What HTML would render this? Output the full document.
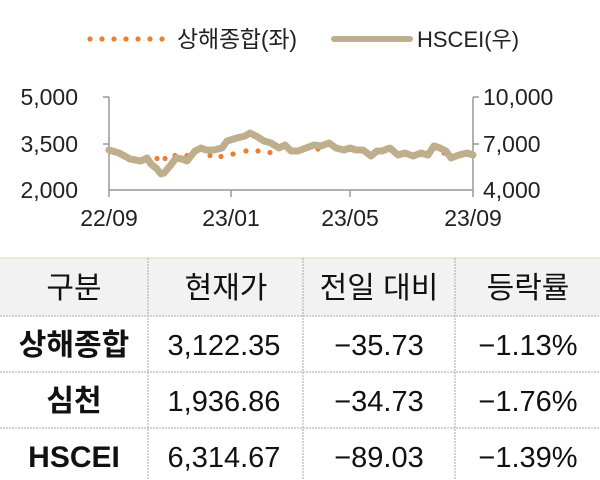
<!DOCTYPE html>
<html><head><meta charset="utf-8"><style>
html,body{margin:0;padding:0;background:#fff;width:600px;height:480px;overflow:hidden}
svg{display:block;font-family:"Liberation Sans","Noto Sans CJK KR",sans-serif}
</style></head><body>
<svg width="600" height="480" viewBox="0 0 600 480">
<g fill="#ED7D31">
<circle cx="90" cy="39" r="2.6"/><circle cx="102" cy="39" r="2.6"/><circle cx="114" cy="39" r="2.6"/><circle cx="126" cy="39" r="2.6"/><circle cx="138" cy="39" r="2.6"/><circle cx="150" cy="39" r="2.6"/><circle cx="162" cy="39" r="2.6"/>
</g>
<text x="177" y="47" font-size="23" fill="#222" textLength="120">상해종합(좌)</text>
<line x1="334" y1="39" x2="410" y2="39" stroke="#BFAE8C" stroke-width="6" stroke-linecap="round"/>
<text x="417" y="47" font-size="22" fill="#222">HSCEI(우)</text>
<g stroke="#999" stroke-width="1.5" fill="none">
<line x1="109" y1="97" x2="109" y2="197"/>
<line x1="473" y1="97" x2="473" y2="197"/>
<line x1="109" y1="190" x2="473" y2="190"/>
<line x1="103" y1="97" x2="109" y2="97"/><line x1="103" y1="144" x2="109" y2="144"/>
<line x1="473" y1="97" x2="479" y2="97"/><line x1="473" y1="144" x2="479" y2="144"/>
<line x1="231" y1="190" x2="231" y2="197"/><line x1="350" y1="190" x2="350" y2="197"/>
</g>
<g font-size="23" fill="#222">
<text x="78" y="105" text-anchor="end">5,000</text>
<text x="78" y="152" text-anchor="end">3,500</text>
<text x="78" y="198" text-anchor="end">2,000</text>
<text x="483" y="105">10,000</text>
<text x="483" y="152">7,000</text>
<text x="483" y="198">4,000</text>
<text x="109" y="226" text-anchor="middle">22/09</text>
<text x="231" y="226" text-anchor="middle">23/01</text>
<text x="350" y="226" text-anchor="middle">23/05</text>
<text x="473" y="226" text-anchor="middle">23/09</text>
</g>
<g fill="#ED7D31">
<circle cx="145" cy="158.5" r="2.6"/><circle cx="157" cy="158.5" r="2.6"/><circle cx="165" cy="158.5" r="2.6"/><circle cx="175" cy="155.5" r="2.6"/><circle cx="187" cy="155.5" r="2.6"/>
<circle cx="210" cy="155.5" r="2.6"/><circle cx="221" cy="156.5" r="2.6"/><circle cx="233" cy="154" r="2.6"/><circle cx="246" cy="151" r="2.6"/><circle cx="258" cy="151" r="2.6"/><circle cx="270" cy="152.5" r="2.6"/>
<circle cx="318" cy="149" r="2.6"/><circle cx="433" cy="149" r="2.6"/><circle cx="444" cy="153" r="2.6"/>
</g>
<polyline fill="none" stroke="#BFAE8C" stroke-width="7" stroke-linejoin="round" stroke-linecap="round" points="109,150 119,153 130,159 141,161 147,158 151,164 157,169 161,174 164,173 170,166 176,158 182,159 187,161 195,151 201,148 206,150 214,150 222,148 227,141 237,138 245,136 250,133 256,136 264,141 271,143 279,148 285,145 291,151 298,151 306,148 314,145 321,146 329,143 336,148 344,150 350,148 356,150 363,150 371,156 377,151 382,151 390,148 398,155 405,153 413,156 421,153 428,155 434,146 440,148 446,151 451,158 459,155 467,153 473,155"/>
<rect x="0" y="258" width="600" height="58" fill="#F2F2F2"/>
<line x1="0" y1="258" x2="600" y2="258" stroke="#EFE6D6" stroke-width="2"/>
<g stroke="#AAA" stroke-width="1" stroke-dasharray="2,1">
<line x1="0" y1="316" x2="600" y2="316"/><line x1="0" y1="372" x2="600" y2="372"/><line x1="0" y1="428" x2="600" y2="428"/>
<line x1="148" y1="258" x2="148" y2="480"/><line x1="303" y1="258" x2="303" y2="480"/><line x1="455" y1="258" x2="455" y2="480"/>
</g>
<g font-size="30" fill="#111" text-anchor="middle">
<text x="74" y="298">구분</text><text x="226" y="298">현재가</text><text x="379" y="298">전일 대비</text><text x="528" y="298">등락률</text>
<text x="74" y="355" font-weight="bold">상해종합</text><text x="74" y="411" font-weight="bold">심천</text><text x="74" y="467" font-weight="bold">HSCEI</text>
</g>
<g font-size="29" fill="#111" text-anchor="middle">
<text x="224" y="355">3,122.35</text><text x="224" y="411">1,936.86</text><text x="224" y="467">6,314.67</text>
<text x="379" y="355">−35.73</text><text x="379" y="411">−34.73</text><text x="379" y="467">−89.03</text>
<text x="528" y="355">−1.13%</text><text x="528" y="411">−1.76%</text><text x="528" y="467">−1.39%</text>
</g>
</svg>
</body></html>
